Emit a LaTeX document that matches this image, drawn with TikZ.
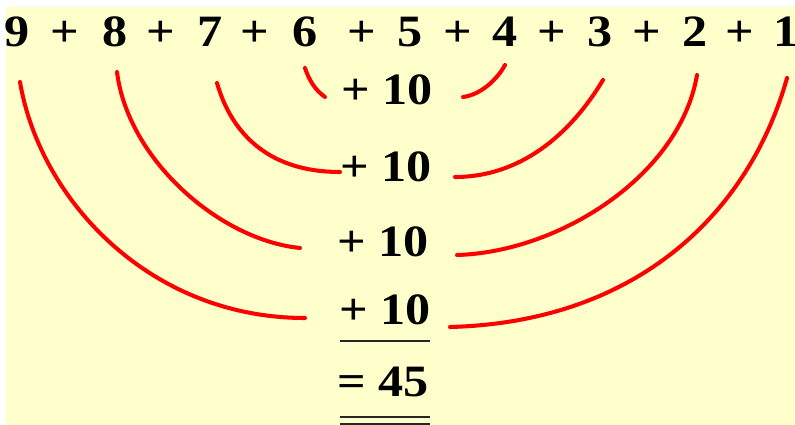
\documentclass[tikz,border=0pt]{standalone}
\usepackage{fontspec}
\setmainfont{Liberation Serif}
\newfontfamily\sumfont{Liberation Serif Bold}
\usepackage{graphicx}
\usepackage{xcolor}
\definecolor{paper}{HTML}{FFFFCC}
\newcommand{\stretchtxt}[1]{\scalebox{1.12}[1]{#1}}

\begin{document}
\begin{tikzpicture}[
    x=0.02cm, y=-0.02cm,
    num/.style={anchor=base, inner sep=0pt, font=\fontsize{25.5}{30}\sumfont},
    arcline/.style={draw=red, line width=2.3pt, line cap=round},
    rule/.style={draw=black!85, line width=1.6pt}
]
    \useasboundingbox (0,0) rectangle (795,425);
    \fill[paper] (6,7) rectangle (795,425);

    % top row
    \node[num] (n9) at (17,47)  {\stretchtxt{9}};
    \node[num] (p1) at (65,47)  {\stretchtxt{+}};
    \node[num] (n8) at (115,47) {\stretchtxt{8}};
    \node[num] (p2) at (161,47) {\stretchtxt{+}};
    \node[num] (n7) at (210,47) {\stretchtxt{7}};
    \node[num] (p3) at (255,47) {\stretchtxt{+}};
    \node[num] (n6) at (305,47) {\stretchtxt{6}};
    \node[num] (p4) at (362,47) {\stretchtxt{+}};
    \node[num] (n5) at (410,47) {\stretchtxt{5}};
    \node[num] (p5) at (458,47) {\stretchtxt{+}};
    \node[num] (n4) at (505,47) {\stretchtxt{4}};
    \node[num] (p6) at (552,47) {\stretchtxt{+}};
    \node[num] (n3) at (600,47) {\stretchtxt{3}};
    \node[num] (p7) at (647,47) {\stretchtxt{+}};
    \node[num] (n2) at (695,47) {\stretchtxt{2}};
    \node[num] (p8) at (740,47) {\stretchtxt{+}};
    \node[num] (n1) at (786,47) {\stretchtxt{1}};

    % pair sums
    \node[num] (r1) at (387,105) {\stretchtxt{+ 10}};
    \node[num] (r2) at (386,182) {\stretchtxt{+ 10}};
    \node[num] (r3) at (383,257) {\stretchtxt{+ 10}};
    \node[num] (r4) at (385,325) {\stretchtxt{+ 10}};
    \node[num] (total) at (383,397) {\stretchtxt{= 45}};

    \coordinate (ua) at (340,341);
    \coordinate (ub) at (430,341);
    \coordinate (va) at (340,417);
    \coordinate (vb) at (430,417);
    \coordinate (wa) at (340,424);
    \coordinate (wb) at (430,424);
    \draw[rule] (ua) -- (ub);
    \draw[rule] (va) -- (vb);
    \draw[rule] (wa) -- (wb);

    % curve ends
    \coordinate (a6) at (305,68);
    \coordinate (b6) at (325,97);
    \coordinate (a4) at (463,97);
    \coordinate (b4) at (505,65);
    \coordinate (a7) at (217,83);
    \coordinate (b7) at (340,172);
    \coordinate (a3) at (455,177);
    \coordinate (b3) at (603,80);
    \coordinate (a8) at (117,72);
    \coordinate (b8) at (300,248);
    \coordinate (a2) at (457,255);
    \coordinate (b2) at (697,75);
    \coordinate (a9) at (20,82);
    \coordinate (b9) at (305,318);
    \coordinate (a1) at (450,327);
    \coordinate (b1) at (787,78);

    \draw[arcline] (a6) .. controls (309,80) and (315,90) .. (b6);
    \draw[arcline] (a4) .. controls (480,95) and (497,80) .. (b4);
    \draw[arcline] (a7) .. controls (232,135) and (270,172) .. (b7);
    \draw[arcline] (a3) .. controls (520,177) and (570,135) .. (b3);
    \draw[arcline] (a8) .. controls (128,160) and (220,240) .. (b8);
    \draw[arcline] (a2) .. controls (560,252) and (680,175) .. (b2);
    \draw[arcline] (a9) .. controls (40,200) and (150,318) .. (b9);
    \draw[arcline] (a1) .. controls (640,322) and (750,210) .. (b1);
\end{tikzpicture}
\end{document}
